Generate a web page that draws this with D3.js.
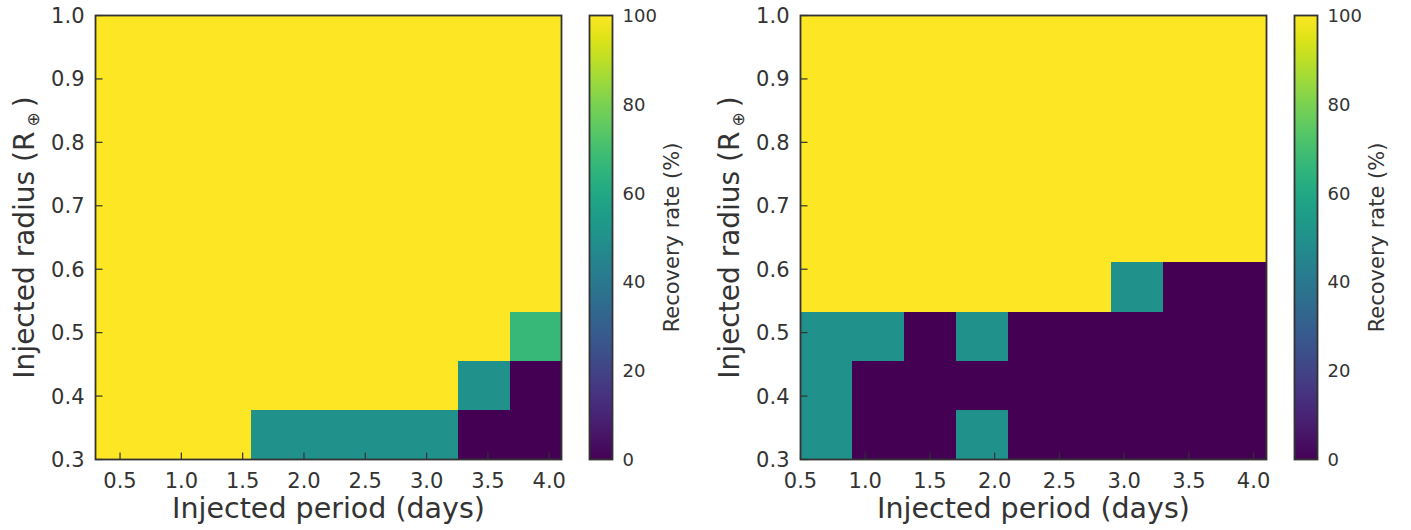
<!DOCTYPE html>
<html>
<head>
    <style>
        html, body { margin: 0; padding: 0; background: #fff; overflow: hidden; }
        text { font-family: "DejaVu Sans", sans-serif; fill: #333; }
    </style>
</head>
<body>
<script src="https://d3js.org/d3.v7.min.js"></script>
<script>
    // cell edges (days / Earth radii)
    const periodEdgesLeft = [0.3, 0.722, 1.144, 1.567, 1.989, 2.411, 2.833, 3.256, 3.678, 4.1];
    const periodEdgesRight = [0.5, 0.9, 1.3, 1.7, 2.1, 2.5, 2.9, 3.3, 3.7, 4.1];
    const radiusEdges = [0.3, 0.378, 0.456, 0.533, 0.611, 0.689, 0.767, 0.844, 0.922, 1.0];

    // recovery rate (%), one array per radius row, bottom row first
    const leftRows = [
        [100, 100, 100, 50, 50, 50, 50, 0, 0],
        [100, 100, 100, 100, 100, 100, 100, 50, 0],
        [100, 100, 100, 100, 100, 100, 100, 100, 67],
        [100, 100, 100, 100, 100, 100, 100, 100, 100],
        [100, 100, 100, 100, 100, 100, 100, 100, 100],
        [100, 100, 100, 100, 100, 100, 100, 100, 100],
        [100, 100, 100, 100, 100, 100, 100, 100, 100],
        [100, 100, 100, 100, 100, 100, 100, 100, 100],
        [100, 100, 100, 100, 100, 100, 100, 100, 100]
    ];
    const rightRows = [
        [50, 0, 0, 50, 0, 0, 0, 0, 0],
        [50, 0, 0, 0, 0, 0, 0, 0, 0],
        [50, 50, 0, 50, 0, 0, 0, 0, 0],
        [100, 100, 100, 100, 100, 100, 50, 0, 0],
        [100, 100, 100, 100, 100, 100, 100, 100, 100],
        [100, 100, 100, 100, 100, 100, 100, 100, 100],
        [100, 100, 100, 100, 100, 100, 100, 100, 100],
        [100, 100, 100, 100, 100, 100, 100, 100, 100],
        [100, 100, 100, 100, 100, 100, 100, 100, 100]
    ];

    const xTicks = [0.5, 1.0, 1.5, 2.0, 2.5, 3.0, 3.5, 4.0];
    const yTicks = [0.3, 0.4, 0.5, 0.6, 0.7, 0.8, 0.9, 1.0];
    const cbTicks = [0, 20, 40, 60, 80, 100];

    const width = 1411, height = 530;
    const plotTop = 15.5, plotBottom = 459.5;
    const ink = "#333";

    const svg = d3.select("body").append("svg")
        .attr("width", width)
        .attr("height", height);

    const color = d3.scaleSequential(d3.interpolateViridis).domain([0, 100]);

    const defs = svg.append("defs");
    const grad = defs.append("linearGradient")
        .attr("id", "viridis")
        .attr("x1", 0).attr("y1", 1).attr("x2", 0).attr("y2", 0);
    d3.range(0, 1.0001, 0.05).forEach(t => {
        grad.append("stop").attr("offset", t).attr("stop-color", d3.interpolateViridis(t));
    });

    function panel(left, right, xDomain, edges, rows, cbLeft) {
        const x = d3.scaleLinear().domain(xDomain).range([left, right]);
        const y = d3.scaleLinear().domain([0.3, 1.0]).range([plotBottom, plotTop]);
        const g = svg.append("g");

        // cells
        const cells = [];
        rows.forEach((row, j) => row.forEach((v, i) => cells.push({i, j, v})));
        g.selectAll("rect.cell")
            .data(cells)
            .join("rect")
            .attr("class", "cell")
            .attr("shape-rendering", "crispEdges")
            .attr("x", d => Math.round(x(edges[d.i])))
            .attr("width", d => Math.round(x(edges[d.i + 1])) - Math.round(x(edges[d.i])))
            .attr("y", d => Math.round(y(radiusEdges[d.j + 1])))
            .attr("height", d => Math.round(y(radiusEdges[d.j])) - Math.round(y(radiusEdges[d.j + 1])))
            .attr("fill", d => color(d.v));

        // ticks, inward
        g.selectAll("line.xt")
            .data(xTicks)
            .join("line")
            .attr("x1", d => x(d)).attr("x2", d => x(d))
            .attr("y1", plotBottom).attr("y2", plotBottom - 7)
            .attr("stroke", ink).attr("stroke-width", 1.2);
        g.selectAll("line.yt")
            .data(yTicks)
            .join("line")
            .attr("y1", d => y(d)).attr("y2", d => y(d))
            .attr("x1", left).attr("x2", left + 7)
            .attr("stroke", ink).attr("stroke-width", 1.2);

        g.append("rect")
            .attr("x", left).attr("y", plotTop)
            .attr("width", right - left).attr("height", plotBottom - plotTop)
            .attr("fill", "none").attr("stroke", ink).attr("stroke-width", 1.8);

        g.selectAll("text.xl")
            .data(xTicks)
            .join("text")
            .attr("x", d => x(d)).attr("y", plotBottom + 28)
            .attr("text-anchor", "middle")
            .attr("font-size", 21)
            .text(d => d.toFixed(1));
        g.selectAll("text.yl")
            .data(yTicks)
            .join("text")
            .attr("x", left - 11).attr("y", d => y(d))
            .attr("dy", "0.36em")
            .attr("text-anchor", "end")
            .attr("font-size", 21)
            .text(d => d.toFixed(1));

        g.append("text")
            .attr("x", (left + right) / 2).attr("y", 518)
            .attr("text-anchor", "middle")
            .attr("font-size", 28.5)
            .text("Injected period (days)");

        const yl = g.append("text")
            .attr("transform", `translate(${left - 62},${(plotTop + plotBottom) / 2}) rotate(-90)`)
            .attr("text-anchor", "middle")
            .attr("font-size", 28);
        yl.append("tspan").text("Injected radius (R");
        yl.append("tspan").attr("font-size", 17).attr("dy", 5).attr("dx", 5).text("\u2295");
        yl.append("tspan").attr("dy", -5).attr("dx", 5).text(")");

        // colorbar
        const cbW = 23;
        const cy = d3.scaleLinear().domain([0, 100]).range([plotBottom, plotTop]);
        g.append("rect")
            .attr("x", cbLeft).attr("y", plotTop)
            .attr("width", cbW).attr("height", plotBottom - plotTop)
            .attr("fill", "url(#viridis)")
            .attr("stroke", ink).attr("stroke-width", 1.8);
        g.selectAll("text.cb")
            .data(cbTicks)
            .join("text")
            .attr("x", cbLeft + cbW + 10).attr("y", d => cy(d))
            .attr("dy", "0.36em")
            .attr("font-size", 18)
            .text(d => d);
        g.append("text")
            .attr("transform", `translate(${cbLeft + cbW + 66},${(plotTop + plotBottom) / 2}) rotate(-90)`)
            .attr("text-anchor", "middle")
            .attr("font-size", 21)
            .text("Recovery rate (%)");
    }

    panel(95.5, 561.5, [0.3, 4.1], periodEdgesLeft, leftRows, 589.5);
    panel(800.5, 1266.5, [0.5, 4.1], periodEdgesRight, rightRows, 1294.5);
</script>
</body>
</html>
